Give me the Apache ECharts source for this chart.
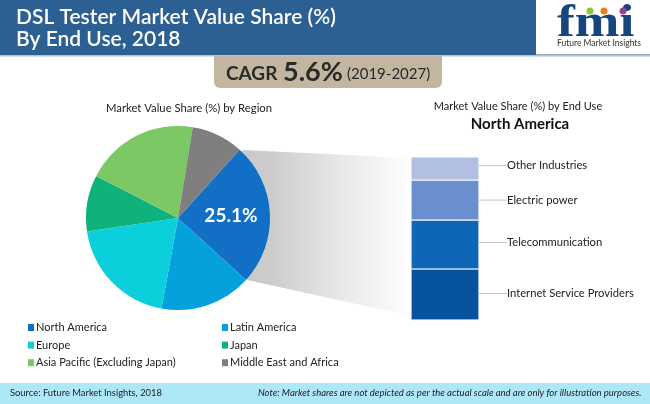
<!DOCTYPE html>
<html>
<head>
<meta charset="utf-8">
<style>html,body{margin:0;padding:0;background:#fff}#chart{width:650px;height:404px}</style>
<script src="https://cdn.jsdelivr.net/npm/echarts@6/dist/echarts.min.js"></script>
</head>
<body>
<div id="chart"></div>
<script>
// region pie
var regions = ['North America', 'Latin America', 'Europe', 'Japan', 'Asia Pacific (Excluding Japan)', 'Middle East and Africa'];
var regionShares = [25.1, 16.1, 19.8, 9.9, 20.0, 9.1];
var regionColors = ['#126fc6', '#05a1dc', '#0bd0dc', '#10b27c', '#7cc864', '#7f7f7f'];

// end use stack, bottom to top
var endUses = ['Internet Service Providers', 'Telecommunication', 'Electric power', 'Other Industries'];
var endUseShares = [31.3, 30.0, 24.5, 14.2];
var endUseColors = ['#06529c', '#0f66b8', '#6b8ecf', '#b0bfe2'];

var fontName = 'Lato, sans-serif';
var textColor = '#222';

var chart = echarts.init(document.getElementById('chart'));

var pieData = regions.map(function (name, i) {
    return {
        name: name,
        value: regionShares[i],
        itemStyle: { color: regionColors[i] },
        label: i === 0 ? { show: true } : { show: false }
    };
});

// small vertical nudges so labels sit where the leaders end
var labelNudge = [-1, -2, 0, -3];

var barSeries = endUses.map(function (name, i) {
    return {
        name: name,
        type: 'bar',
        stack: 'endUse',
        barWidth: 68,
        data: [endUseShares[i]],
        itemStyle: { color: endUseColors[i], borderColor: '#eef2fa', borderWidth: 0.6 },
        label: {
            show: true,
            position: 'right',
            formatter: name,
            color: textColor,
            fontFamily: fontName,
            fontSize: 11.2,
            padding: [0, 0, 0, 5]
        },
        labelLayout: { dx: 18, dy: labelNudge[i] },
        labelLine: { show: true, lineStyle: { color: '#c4c4c4', width: 1 } }
    };
});

function legendFor(names, left) {
    return {
        orient: 'vertical',
        left: left,
        top: 317,
        itemWidth: 6,
        itemHeight: 7,
        itemGap: 6.6,
        icon: 'rect',
        data: names,
        textStyle: { color: textColor, fontFamily: fontName, fontSize: 11, padding: [0, 0, 0, -3] }
    };
}

var option = {
    animation: false,
    title: [
        { text: 'Market Value Share (%) by Region', left: 184, top: 98, textAlign: 'center',
          textStyle: { color: textColor, fontFamily: fontName, fontSize: 11.3, fontWeight: 'normal' } },
        { text: 'Market Value Share (%) by End Use', left: 513, top: 96, textAlign: 'center',
          textStyle: { color: textColor, fontFamily: fontName, fontSize: 11, fontWeight: 'normal' } },
        { text: 'North America', left: 515, top: 112, textAlign: 'center',
          textStyle: { color: '#111', fontFamily: fontName, fontSize: 15, fontWeight: 'bold' } }
    ],
    legend: [
        legendFor([regions[0], regions[2], regions[4]], 23),
        legendFor([regions[1], regions[3], regions[5]], 217)
    ],
    grid: { left: 411, top: 157, width: 68, height: 163 },
    xAxis: { type: 'category', data: ['North America'], show: false },
    yAxis: { type: 'value', min: 0, max: 100, show: false },
    series: [{
        name: 'Market Value Share (%) by Region',
        type: 'pie',
        center: [178, 218],
        radius: [0, 92],
        startAngle: 48,
        data: pieData,
        label: {
            position: 'inside',
            formatter: '{c}%',
            color: '#fff',
            fontFamily: fontName,
            fontWeight: 'bold',
            fontSize: 19
        },
        labelLayout: { dx: 4, dy: 0 },
        labelLine: { show: false }
    }].concat(barSeries),
    graphic: [
        // header band and logo box
        { type: 'rect', z: -5, shape: { x: 0, y: 0, width: 650, height: 56 }, style: { fill: '#2c5f92' } },
        { type: 'rect', z: -4, shape: { x: 536, y: 0, width: 114, height: 54.5 }, style: { fill: '#fff' } },
        { type: 'rect', z: -4, shape: { x: 0, y: 55, width: 650, height: 1.5 }, style: { fill: '#a9c4dc' } },
        { type: 'text', z: 5, x: 16, y: 7, style: { text: 'DSL Tester Market Value Share (%)', fill: '#fff', font: '600 21px ' + fontName } },
        { type: 'text', z: 5, x: 16, y: 29, style: { text: 'By End Use, 2018', fill: '#fff', font: '600 21px ' + fontName } },
        { type: 'text', z: 5, x: 557, y: 0, scaleX: 1.14, style: { text: 'fmi', fill: '#17467f', font: 'bold 47px "Liberation Serif", serif' } },
        { type: 'text', z: 5, x: 557, y: 39, style: { text: 'Future Market Insights', fill: '#333', font: '8.5px ' + fontName } },
        { type: 'circle', z: 6, shape: { cx: 590, cy: 11, r: 3.5 }, style: { fill: '#8cc63f' } },
        { type: 'circle', z: 6, shape: { cx: 604, cy: 11, r: 3.5 }, style: { fill: '#f47b20' } },
        { type: 'circle', z: 6, shape: { cx: 623, cy: 11, r: 3.5 }, style: { fill: '#9b3f98' } },
        // CAGR tag
        { type: 'rect', z: -3, shape: { x: 214, y: 56, width: 228, height: 32, r: [0, 0, 6, 6] }, style: { fill: '#c2b6a0' } },
        { type: 'text', z: 5, x: 226, y: 64, style: { text: 'CAGR', fill: '#2a2a2a', font: 'bold 19px ' + fontName } },
        { type: 'text', z: 5, x: 283, y: 59, style: { text: '5.6%', fill: '#2a2a2a', font: 'bold 27px ' + fontName } },
        { type: 'text', z: 5, x: 347, y: 67, style: { text: '(2019-2027)', fill: '#2a2a2a', font: '15px ' + fontName } },
        // funnel from the slice to the stack
        { type: 'polygon', z: -2, shape: { points: [[243, 150], [411, 158], [411, 316], [247, 280], [178, 218]] },
          style: { fill: new echarts.graphic.LinearGradient(0, 0, 1, 0, [
              { offset: 0, color: '#c4c4c4' }, { offset: 0.4, color: '#cccccc' }, { offset: 0.7, color: '#e8e8e8' }, { offset: 1, color: '#ffffff' }
          ]) } },
        // footer
        { type: 'rect', z: -5, shape: { x: 0, y: 383, width: 650, height: 21 }, style: { fill: '#aee8f8' } },
        { type: 'text', z: 5, x: 10, y: 388, style: { text: 'Source: Future Market Insights, 2018', fill: '#222', font: '9.4px ' + fontName } },
        { type: 'text', z: 5, x: 258, y: 388, style: { text: 'Note: Market shares are not depicted as per the actual scale and are only for illustration purposes.', fill: '#222', font: 'italic 9.5px ' + fontName } }
    ]
};

chart.setOption(option);
</script>
</body>
</html>
